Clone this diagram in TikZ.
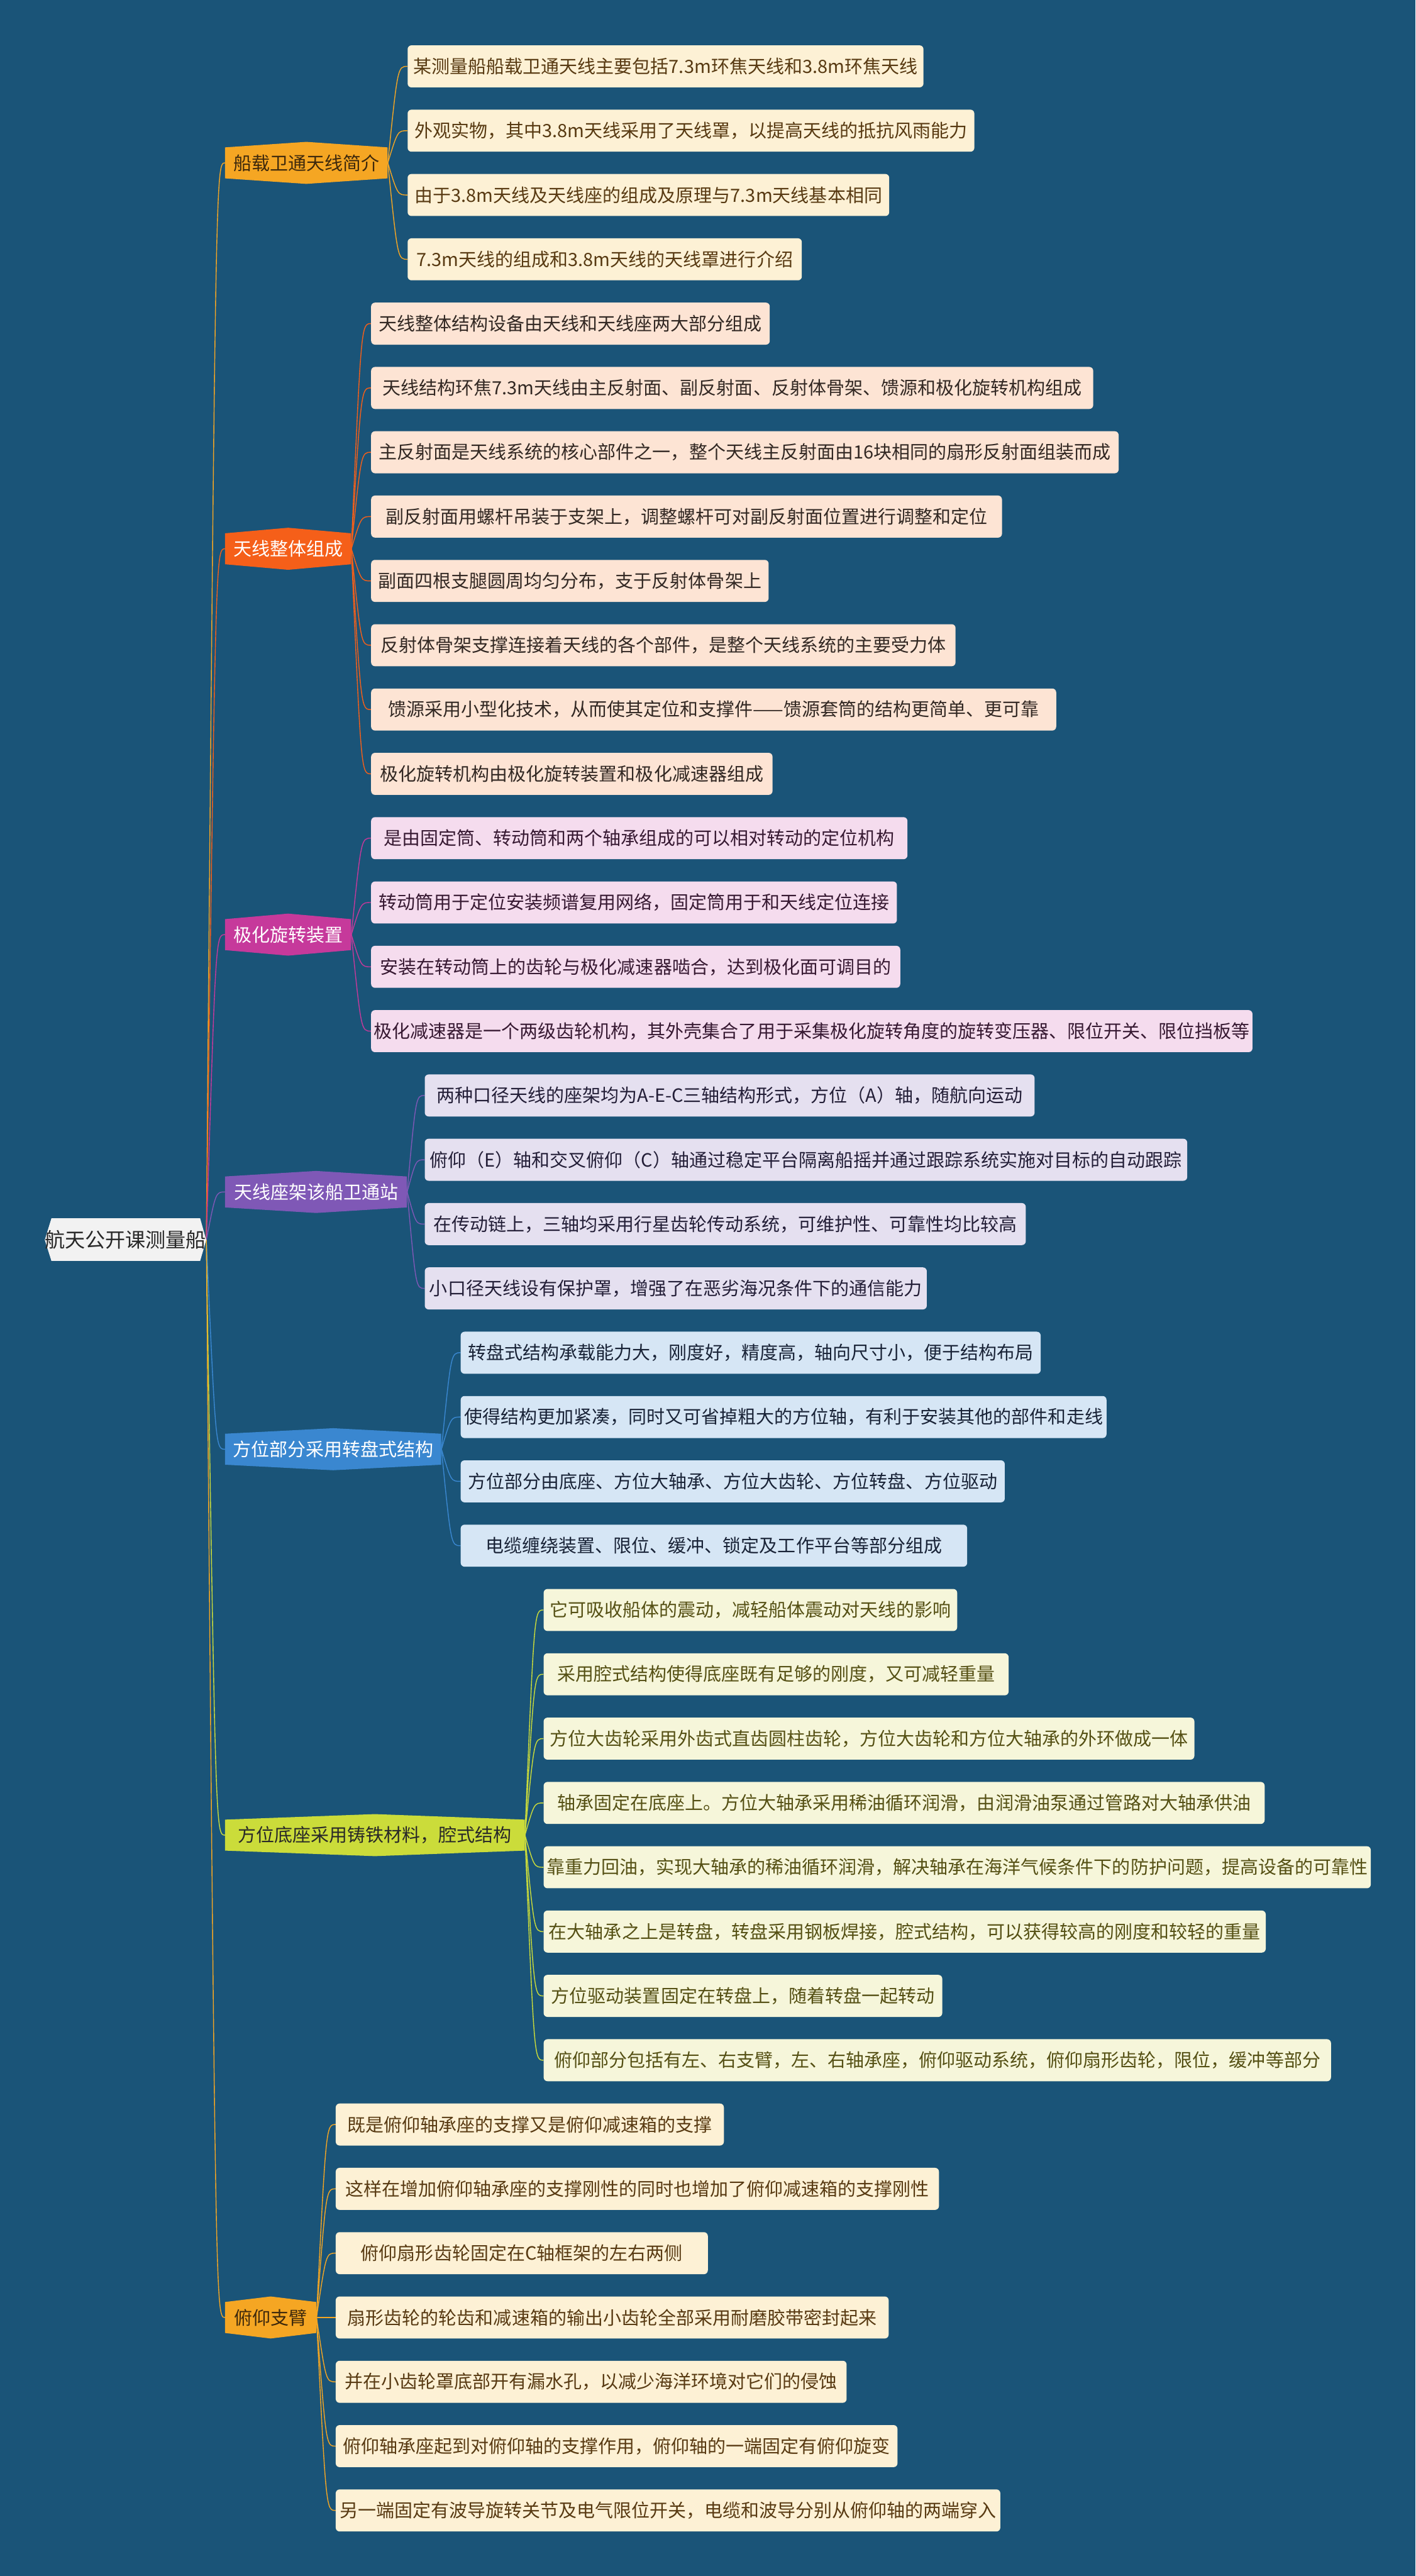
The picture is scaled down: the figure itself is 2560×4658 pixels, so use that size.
\documentclass[tikz,border=0pt]{standalone}
\usepackage{fontspec}
\setmainfont{Noto Sans CJK SC}
\usetikzlibrary{calc}
\definecolor{bgc}{RGB}{26,84,120}
\definecolor{c1}{RGB}{245,166,35}
\definecolor{c2}{RGB}{245,95,25}
\definecolor{c3}{RGB}{198,57,155}
\definecolor{c4}{RGB}{127,88,182}
\definecolor{c5}{RGB}{58,135,208}
\definecolor{c6}{RGB}{203,220,58}
\definecolor{f1}{RGB}{253,241,213}
\definecolor{f2}{RGB}{253,228,212}
\definecolor{f3}{RGB}{245,220,238}
\definecolor{f4}{RGB}{229,224,240}
\definecolor{f5}{RGB}{214,230,245}
\definecolor{f6}{RGB}{246,246,218}
\definecolor{t1}{RGB}{88,58,18}
\definecolor{t2}{RGB}{50,40,35}
\definecolor{t3}{RGB}{55,25,50}
\definecolor{t4}{RGB}{35,30,55}
\definecolor{t5}{RGB}{25,35,55}
\definecolor{t6}{RGB}{85,80,20}
\definecolor{rootf}{RGB}{242,242,242}
\definecolor{dk}{RGB}{40,40,40}
\pgfdeclarelayer{bgl}
\pgfdeclarelayer{edges}
\pgfsetlayers{bgl,edges,main}
\newcommand{\conn}[3]{\draw[line width=1.6pt,#1] (#2.east) let \p1=(#2.east), \p2=(#3.west) in .. controls ({0.5*\x1+0.5*\x2},\y2) .. (\p2);}
\newcommand{\hexfill}[4]{\fill[#1] (#2,#4-28) -- (#2+#3/2,#4-38) -- (#2+#3,#4-28) -- (#2+#3,#4+28) -- (#2+#3/2,#4+38) -- (#2,#4+28) -- cycle;}
\tikzset{
  leaf/.style={rectangle, rounded corners=7pt, anchor=west, minimum height=76pt, inner xsep=4pt, inner ysep=0pt, font=\fontsize{33}{40}\selectfont},
  l1/.style={leaf, fill=f1, text=t1},
  l2/.style={leaf, fill=f2, text=t2},
  l3/.style={leaf, fill=f3, text=t3},
  l4/.style={leaf, fill=f4, text=t4},
  l5/.style={leaf, fill=f5, text=t5},
  l6/.style={leaf, fill=f6, text=t6},
  branch/.style={rectangle, minimum height=57pt, inner xsep=2pt, inner ysep=0pt, anchor=west, font=\fontsize{33}{40}\selectfont},
}
\begin{document}
\begin{tikzpicture}[x=1pt,y=-1pt]
\begin{pgfonlayer}{bgl}
\fill[bgc] (0,0) rectangle (2560,4658);
\end{pgfonlayer}
\useasboundingbox (0,0) rectangle (2560,4658);

% root
\fill[rootf] (81,2242) -- (93,2203) -- (362,2203) -- (373,2242) -- (362,2280) -- (93,2280) -- cycle;
\node[rectangle, minimum width=292pt, minimum height=77pt, inner sep=0pt, text=dk, font=\fontsize{36.5}{44}\selectfont] (root) at (227,2242) {航天公开课测量船};

% branches
\hexfill{c1}{407}{294}{294.5}
\node[branch, minimum width=294pt, text=t1!70!black] (b1) at (407,294.5) {船载卫通天线简介};
\hexfill{c2}{407}{228}{992.3}
\node[branch, minimum width=228pt, text=white] (b2) at (407,992.3) {天线整体组成};
\hexfill{c3}{407}{228}{1690}
\node[branch, minimum width=228pt, text=white] (b3) at (407,1690) {极化旋转装置};
\hexfill{c4}{407}{329}{2155.3}
\node[branch, minimum width=329pt, text=white] (b4) at (407,2155.3) {天线座架该船卫通站};
\hexfill{c5}{407}{391}{2620.5}
\node[branch, minimum width=391pt, text=white] (b5) at (407,2620.5) {方位部分采用转盘式结构};
\hexfill{c6}{407}{542}{3318.3}
\node[branch, minimum width=542pt, text=dk] (b6) at (407,3318.3) {方位底座采用铸铁材料，腔式结构};
\hexfill{c1}{407}{165}{4190.5}
\node[branch, minimum width=165pt, text=t1!70!black] (b7) at (407,4190.5) {俯仰支臂};

% leaves branch 1
\node[l1, minimum width=933pt] (a1) at (737,120) {某测量船船载卫通天线主要包括7.3m环焦天线和3.8m环焦天线};
\node[l1, minimum width=1025pt] (a2) at (737,236.3) {外观实物，其中3.8m天线采用了天线罩，以提高天线的抵抗风雨能力};
\node[l1, minimum width=871pt] (a3) at (737,352.6) {由于3.8m天线及天线座的组成及原理与7.3m天线基本相同};
\node[l1, minimum width=713pt] (a4) at (737,468.9) {7.3m天线的组成和3.8m天线的天线罩进行介绍};

% branch 2
\node[l2, minimum width=721pt] (b2l1) at (671,585.2) {天线整体结构设备由天线和天线座两大部分组成};
\node[l2, minimum width=1306pt] (b2l2) at (671,701.5) {天线结构环焦7.3m天线由主反射面、副反射面、反射体骨架、馈源和极化旋转机构组成};
\node[l2, minimum width=1352pt] (b2l3) at (671,817.8) {主反射面是天线系统的核心部件之一，整个天线主反射面由16块相同的扇形反射面组装而成};
\node[l2, minimum width=1141pt] (b2l4) at (671,934.1) {副反射面用螺杆吊装于支架上，调整螺杆可对副反射面位置进行调整和定位};
\node[l2, minimum width=719pt] (b2l5) at (671,1050.4) {副面四根支腿圆周均匀分布，支于反射体骨架上};
\node[l2, minimum width=1057pt] (b2l6) at (671,1166.7) {反射体骨架支撑连接着天线的各个部件，是整个天线系统的主要受力体};
\node[l2, minimum width=1239pt] (b2l7) at (671,1283.0) {馈源采用小型化技术，从而使其定位和支撑件——馈源套筒的结构更简单、更可靠};
\node[l2, minimum width=726pt] (b2l8) at (671,1399.3) {极化旋转机构由极化旋转装置和极化减速器组成};

% branch 3
\node[l3, minimum width=970pt] (b3l1) at (671,1515.6) {是由固定筒、转动筒和两个轴承组成的可以相对转动的定位机构};
\node[l3, minimum width=951pt] (b3l2) at (671,1631.9) {转动筒用于定位安装频谱复用网络，固定筒用于和天线定位连接};
\node[l3, minimum width=957pt] (b3l3) at (671,1748.2) {安装在转动筒上的齿轮与极化减速器啮合，达到极化面可调目的};
\node[l3, minimum width=1594pt] (b3l4) at (671,1864.5) {极化减速器是一个两级齿轮机构，其外壳集合了用于采集极化旋转角度的旋转变压器、限位开关、限位挡板等};

% branch 4
\node[l4, minimum width=1103pt] (b4l1) at (768,1980.8) {两种口径天线的座架均为A-E-C三轴结构形式，方位（A）轴，随航向运动};
\node[l4, minimum width=1379pt] (b4l2) at (768,2097.1) {俯仰（E）轴和交叉俯仰（C）轴通过稳定平台隔离船摇并通过跟踪系统实施对目标的自动跟踪};
\node[l4, minimum width=1087pt] (b4l3) at (768,2213.4) {在传动链上，三轴均采用行星齿轮传动系统，可维护性、可靠性均比较高};
\node[l4, minimum width=908pt] (b4l4) at (768,2329.7) {小口径天线设有保护罩，增强了在恶劣海况条件下的通信能力};

% branch 5
\node[l5, minimum width=1049pt] (b5l1) at (833,2446.0) {转盘式结构承载能力大，刚度好，精度高，轴向尺寸小，便于结构布局};
\node[l5, minimum width=1168pt] (b5l2) at (833,2562.3) {使得结构更加紧凑，同时又可省掉粗大的方位轴，有利于安装其他的部件和走线};
\node[l5, minimum width=984pt] (b5l3) at (833,2678.6) {方位部分由底座、方位大轴承、方位大齿轮、方位转盘、方位驱动};
\node[l5, minimum width=916pt] (b5l4) at (833,2794.9) {电缆缠绕装置、限位、缓冲、锁定及工作平台等部分组成};

% branch 6
\node[l6, minimum width=748pt] (b6l1) at (983,2911.2) {它可吸收船体的震动，减轻船体震动对天线的影响};
\node[l6, minimum width=841pt] (b6l2) at (983,3027.5) {采用腔式结构使得底座既有足够的刚度，又可减轻重量};
\node[l6, minimum width=1177pt] (b6l3) at (983,3143.8) {方位大齿轮采用外齿式直齿圆柱齿轮，方位大齿轮和方位大轴承的外环做成一体};
\node[l6, minimum width=1304pt] (b6l4) at (983,3260.1) {轴承固定在底座上。方位大轴承采用稀油循环润滑，由润滑油泵通过管路对大轴承供油};
\node[l6, minimum width=1496pt] (b6l5) at (983,3376.4) {靠重力回油，实现大轴承的稀油循环润滑，解决轴承在海洋气候条件下的防护问题，提高设备的可靠性};
\node[l6, minimum width=1306pt] (b6l6) at (983,3492.7) {在大轴承之上是转盘，转盘采用钢板焊接，腔式结构，可以获得较高的刚度和较轻的重量};
\node[l6, minimum width=721pt] (b6l7) at (983,3609.0) {方位驱动装置固定在转盘上，随着转盘一起转动};
\node[l6, minimum width=1424pt] (b6l8) at (983,3725.3) {俯仰部分包括有左、右支臂，左、右轴承座，俯仰驱动系统，俯仰扇形齿轮，限位，缓冲等部分};

% branch 7
\node[l1, minimum width=702pt] (b7l1) at (607,3841.6) {既是俯仰轴承座的支撑又是俯仰减速箱的支撑};
\node[l1, minimum width=1091pt] (b7l2) at (607,3957.9) {这样在增加俯仰轴承座的支撑刚性的同时也增加了俯仰减速箱的支撑刚性};
\node[l1, minimum width=673pt] (b7l3) at (607,4074.2) {俯仰扇形齿轮固定在C轴框架的左右两侧};
\node[l1, minimum width=1000pt] (b7l4) at (607,4190.5) {扇形齿轮的轮齿和减速箱的输出小齿轮全部采用耐磨胶带密封起来};
\node[l1, minimum width=924pt] (b7l5) at (607,4306.8) {并在小齿轮罩底部开有漏水孔，以减少海洋环境对它们的侵蚀};
\node[l1, minimum width=1016pt] (b7l6) at (607,4423.1) {俯仰轴承座起到对俯仰轴的支撑作用，俯仰轴的一端固定有俯仰旋变};
\node[l1, minimum width=1202pt] (b7l7) at (607,4539.4) {另一端固定有波导旋转关节及电气限位开关，电缆和波导分别从俯仰轴的两端穿入};

\begin{pgfonlayer}{edges}
\conn{c1}{root}{b1}
\conn{c2}{root}{b2}
\conn{c3}{root}{b3}
\conn{c4}{root}{b4}
\conn{c5}{root}{b5}
\conn{c6}{root}{b6}
\conn{c1}{root}{b7}
\foreach \q in {a1,a2,a3,a4} {\conn{c1}{b1}{\q}}
\foreach \q in {b2l1,b2l2,b2l3,b2l4,b2l5,b2l6,b2l7,b2l8} {\conn{c2}{b2}{\q}}
\foreach \q in {b3l1,b3l2,b3l3,b3l4} {\conn{c3}{b3}{\q}}
\foreach \q in {b4l1,b4l2,b4l3,b4l4} {\conn{c4}{b4}{\q}}
\foreach \q in {b5l1,b5l2,b5l3,b5l4} {\conn{c5}{b5}{\q}}
\foreach \q in {b6l1,b6l2,b6l3,b6l4,b6l5,b6l6,b6l7,b6l8} {\conn{c6}{b6}{\q}}
\foreach \q in {b7l1,b7l2,b7l3,b7l4,b7l5,b7l6,b7l7} {\conn{c1}{b7}{\q}}
\end{pgfonlayer}
\end{tikzpicture}
\end{document}
